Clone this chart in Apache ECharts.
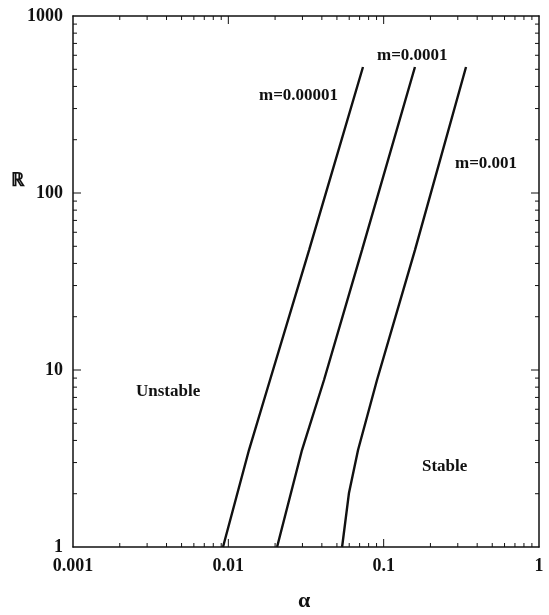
<!DOCTYPE html>
<html lang="en">
<head>
    <meta charset="UTF-8">
    <title>Stability diagram</title>
    <script src="https://cdn.jsdelivr.net/npm/echarts@6/dist/echarts.min.js"></script>
    <style>
        body { margin: 0; background: #fff; }
    </style>
</head>
<body>
    <div id="chart" style="width: 549px; height: 615px;"></div>
</body>
</html>
<script>
    // curves (alpha, R)
    var alpha1 = [0.00924, 0.01358, 0.01855, 0.0331, 0.0736];
    var R1 = [1, 3.53, 8.78, 47.6, 515];
    var alpha2 = [0.0206, 0.0298, 0.0413, 0.0725, 0.159];
    var R2 = [1, 3.53, 8.78, 47.6, 515];
    var alpha3 = [0.054, 0.0598, 0.0684, 0.0906, 0.159, 0.339];
    var R3 = [1, 2.02, 3.53, 8.78, 47.6, 515];

    var seriesNames = ['m=0.00001', 'm=0.0001', 'm=0.001'];
    var xMajor = [0.001, 0.01, 0.1, 1];
    var yMajor = [1, 10, 100, 1000];
    var minorSteps = [2, 3, 4, 5, 6, 7, 8, 9];

    function lg(v) { return Math.log10(v); }
    function minorOf(major) {
        var out = [];
        for (var i = 0; i < major.length - 1; i++) {
            minorSteps.forEach(function (k) { out.push(major[i] * k); });
        }
        return out;
    }
    function pairs(xs, ys) {
        return xs.map(function (x, i) { return [lg(x), lg(ys[i])]; });
    }
    function fmt(v) {
        var p = Math.round(v);
        return p < 0 ? (Math.pow(10, p)).toFixed(-p) : String(Math.pow(10, p));
    }

    var font = '"Liberation Serif", "DejaVu Serif", serif';
    var black = '#111';

    function makeAxis(kind, pos, showLabel) {
        return {
            type: 'value',
            position: pos,
            min: kind === 'x' ? -3 : 0,
            max: kind === 'x' ? 0 : 3,
            interval: 1,
            splitLine: { show: false },
            axisLine: { show: true, onZero: false, lineStyle: { color: black, width: 1.5 } },
            axisTick: { show: false },
            axisLabel: { show: showLabel, formatter: fmt, color: black, fontFamily: font,
                         fontSize: 18, fontWeight: 'bold', margin: 10 }
        };
    }

    // tick marks on all four sides of the box, drawn at the axis values
    function tickSeries(kind, values, len) {
        return {
            type: 'custom',
            xAxisIndex: 0, yAxisIndex: 0,
            silent: true, clip: false,
            data: values.map(function (v) { return kind === 'x' ? [lg(v), 0] : [-3, lg(v)]; }),
            renderItem: function (params, api) {
                var cs = params.coordSys;
                var p = api.coord([api.value(0), api.value(1)]);
                var st = { stroke: black, lineWidth: 1 };
                var a, b;
                if (kind === 'x') {
                    var yb = cs.y + cs.height, yt = cs.y;
                    a = { x1: p[0], y1: yb, x2: p[0], y2: yb - len };
                    b = { x1: p[0], y1: yt, x2: p[0], y2: yt + len };
                } else {
                    var xl = cs.x, xr = cs.x + cs.width;
                    a = { x1: xl, y1: p[1], x2: xl + len, y2: p[1] };
                    b = { x1: xr, y1: p[1], x2: xr - len, y2: p[1] };
                }
                return { type: 'group', children: [
                    { type: 'line', shape: a, style: st },
                    { type: 'line', shape: b, style: st }
                ] };
            }
        };
    }

    var lines = [
        { name: seriesNames[0], data: pairs(alpha1, R1) },
        { name: seriesNames[1], data: pairs(alpha2, R2) },
        { name: seriesNames[2], data: pairs(alpha3, R3) }
    ].map(function (s) {
        return {
            name: s.name, type: 'line', data: s.data, showSymbol: false,
            xAxisIndex: 0, yAxisIndex: 0,
            lineStyle: { color: black, width: 2.4 }
        };
    });

    var chart = echarts.init(document.getElementById('chart'));
    chart.setOption({
        backgroundColor: '#fff',
        animation: false,
        grid: { left: 73, right: 10, top: 16, bottom: 68 },
        xAxis: [ makeAxis('x', 'bottom', true), makeAxis('x', 'top', false) ],
        yAxis: [ makeAxis('y', 'left', true), makeAxis('y', 'right', false) ],
        series: lines.concat([
            tickSeries('x', xMajor.slice(1, 3), 8),
            tickSeries('x', minorOf(xMajor), 4),
            tickSeries('y', yMajor.slice(1, 3), 8),
            tickSeries('y', minorOf(yMajor), 4)
        ]),
        graphic: [
            { type: 'text', left: 259, top: 87, style: { text: seriesNames[0], font: 'bold 17px ' + font, fill: black } },
            { type: 'text', left: 377, top: 47, style: { text: seriesNames[1], font: 'bold 17px ' + font, fill: black } },
            { type: 'text', left: 455, top: 155, style: { text: seriesNames[2], font: 'bold 17px ' + font, fill: black } },
            { type: 'text', left: 136, top: 383, style: { text: 'Unstable', font: 'bold 17px ' + font, fill: black } },
            { type: 'text', left: 422, top: 458, style: { text: 'Stable', font: 'bold 17px ' + font, fill: black } },
            { type: 'text', left: 11, top: 172, style: { text: 'ℝ', font: 'bold 19px ' + font, fill: black } },
            { type: 'text', left: 298, top: 590, style: { text: 'α', font: 'bold 22px ' + font, fill: black } }
        ]
    });
    window.onresize = chart.resize;
</script>
